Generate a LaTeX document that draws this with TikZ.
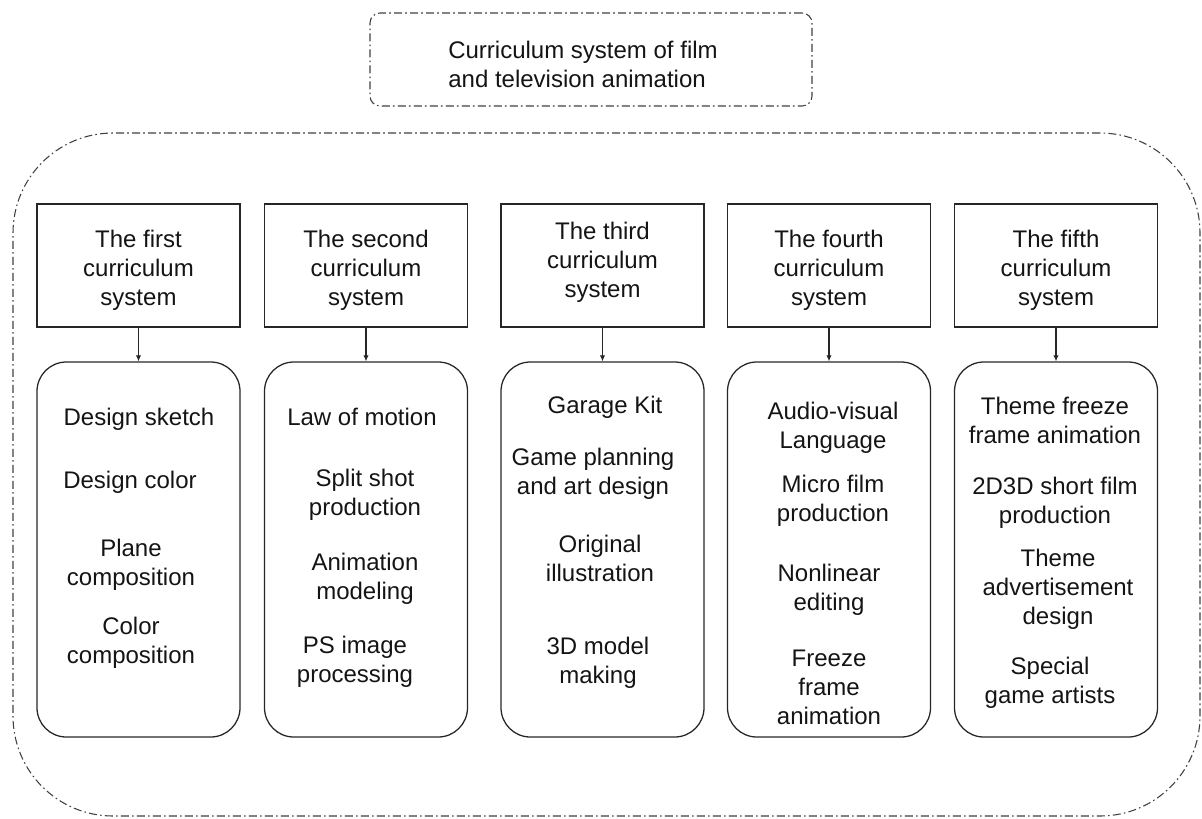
\documentclass[tikz,border=0pt]{standalone}
\usepackage{fontspec}
\setmainfont{Liberation Sans}
\usetikzlibrary{arrows.meta}
\begin{document}
% coordinates are in pixels of a 1202 x 818 canvas, y pointing down
\begin{tikzpicture}[x=0.75pt,y=-0.75pt,
  every node/.style={font=\fontsize{18}{21.75}\selectfont, text=black!92},
  dashdot/.style={draw=black!75, line width=0.8pt,
    dash pattern=on 6pt off 2.4pt on 1.2pt off 2.4pt},
  headbox/.style={draw=black!85, line width=0.95pt, minimum width=152.25pt,
    minimum height=92.25pt, inner sep=0pt},
  itembox/.style={draw=black!85, line width=0.95pt, rounded corners=22pt,
    minimum width=152.25pt, minimum height=281.25pt, inner sep=0pt},
  txt/.style={align=center, inner sep=0pt},
  link/.style={draw=black!85, line width=0.8pt, -{Latex[length=4.5pt,width=4pt]}}
]
\useasboundingbox (0,0) rectangle (1202,818);

% outer frame and title
\node[dashdot, rounded corners=75pt, minimum width=890.25pt, minimum height=512.25pt,
  inner sep=0pt] (frame) at (606.5,474.5) {};
\node[dashdot, rounded corners=7.5pt, minimum width=331.5pt, minimum height=69.75pt,
  inner sep=0pt] (title) at (591,59.5) {};
\node[align=left, inner sep=0pt] (titletext) at (583,64)
  {Curriculum system of film\\and television animation};

% header boxes
\node[headbox] (h1) at (138.5,265.5) {};
\node[headbox] (h2) at (366,265.5) {};
\node[headbox] (h3) at (602.5,265.5) {};
\node[headbox] (h4) at (829,265.5) {};
\node[headbox] (h5) at (1056,265.5) {};
\node[txt] (h1t) at (138.5,270) {The first\\curriculum\\system};
\node[txt] (h2t) at (366,270) {The second\\curriculum\\system};
\node[txt] (h3t) at (602.5,262) {The third\\curriculum\\system};
\node[txt] (h4t) at (829,270) {The fourth\\curriculum\\system};
\node[txt] (h5t) at (1056,270) {The fifth\\curriculum\\system};

% course boxes
\node[itembox] (b1) at (138.5,549.5) {};
\node[itembox] (b2) at (366,549.5) {};
\node[itembox] (b3) at (602.5,549.5) {};
\node[itembox] (b4) at (829,549.5) {};
\node[itembox] (b5) at (1056,549.5) {};

% arrows
\foreach \i in {1,...,5} \draw[link] (h\i.south) -- (b\i.north);

% courses of the first system
\node[txt] (t11) at (139,419) {Design sketch};
\node[txt] (t12) at (130,482) {Design color};
\node[txt] (t13) at (131,564.5) {Plane\\composition};
\node[txt] (t14) at (131,643) {Color\\composition};

% courses of the second system
\node[txt] (t21) at (362,417) {Law of motion};
\node[txt] (t22) at (365,495) {Split shot\\production};
\node[txt] (t23) at (365,578.5) {Animation\\modeling};
\node[txt] (t24) at (355,661.5) {PS image\\processing};

% courses of the third system
\node[txt] (t31) at (605,407) {Garage Kit};
\node[txt] (t32) at (593,474) {Game planning\\and art design};
\node[txt] (t33) at (600,558.5) {Original\\illustration};
\node[txt] (t34) at (598,662.5) {3D model\\making};

% courses of the fourth system
\node[txt] (t41) at (833,427.5) {Audio-visual\\Language};
\node[txt] (t42) at (833,500.5) {Micro film\\production};
\node[txt] (t43) at (829,589.5) {Nonlinear\\editing};
\node[txt] (t44) at (829,687) {Freeze\\frame\\animation};

% courses of the fifth system
\node[txt] (t51) at (1055,420) {Theme freeze\\frame animation};
\node[txt] (t52) at (1055,502.5) {2D3D short film\\production};
\node[txt] (t53) at (1058,589) {Theme\\advertisement\\design};
\node[txt] (t54) at (1050,683) {Special\\game artists};
\end{tikzpicture}
\end{document}
